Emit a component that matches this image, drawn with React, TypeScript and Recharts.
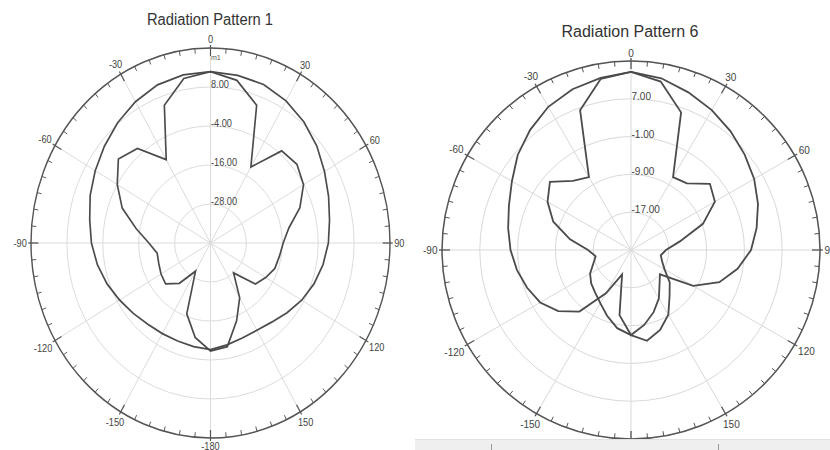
import React from "react";
import { RadarChart, Radar, PolarGrid, PolarAngleAxis, PolarRadiusAxis } from "recharts";

// sample angles (deg, clockwise from 0 at top)
const angles = [
  0, 10, 20, 30, 40, 50, 60, 70, 80, 90, 100, 110, 120, 130, 140, 150, 160, 170,
  180, 190, 200, 210, 220, 230, 240, 250, 260, 270, 280, 290, 300, 310, 320, 330, 340, 350,
];

// Radiation Pattern 1 (dB)
const pattern1Outer = [
  12.7, 12.4, 11.9, 10.5, 8.6, 6.4, 4.0, 2.0, 0.4, -0.6, -1.8, -3.2, -4.8, -6.6, -8.2, -9.0, -8.9, -8.2,
  -7.2, -7.6, -7.9, -7.8, -7.4, -6.3, -4.9, -3.2, -1.6, -0.2, 1.0, 2.8, 4.5, 6.3, 8.3, 10.2, 11.8, 12.5,
];
const pattern1Inner = [
  12.7, 10.8, 5.1, -13.0, -3.0, -2.3, -4.1, -8.2, -13.4, -15.7, -16.6, -17.1, -18.7, -20.4, -28.0, -20.5, -14.5, -7.6,
  -6.8, -10.5, -16.8, -30.0, -23.8, -20.4, -20.9, -21.6, -21.9, -19.4, -14.8, -8.6, -4.0, 0.2, -2.0, -10.4, 5.1, 11.4,
];

// Radiation Pattern 6 (dB)
const pattern6Outer = [
  12.7, 11.9, 10.5, 9.2, 7.8, 6.4, 5.1, 3.6, 2.0, 0.4, -2.1, -5.1, -9.8, -17.0, -15.6, -13.2, -11.0, -8.9,
  -7.0, -11.0, -19.5, -14.5, -8.0, -4.9, -2.8, -1.6, -0.5, 0.5, 1.4, 2.5, 4.1, 6.3, 8.2, 10.0, 11.2, 12.0,
];
const pattern6Inner = [
  12.7, 11.2, 6.0, -7.2, -6.6, -3.2, -4.5, -8.8, -14.5, -17.6, -18.6, -18.0, -16.8, -14.3, -12.3, -9.2, -7.0, -5.5,
  -7.0, -8.2, -10.2, -12.0, -13.2, -14.0, -15.0, -16.5, -17.4, -15.9, -11.9, -7.5, -4.6, -2.6, -5.9, -7.2, 6.5, 11.8,
];

const degreeTicks = [
  0, 5, 10, 15, 20, 25, 30, 35, 40, 45, 50, 55, 60, 65, 70, 75, 80, 85, 90, 95, 100, 105, 110, 115,
  120, 125, 130, 135, 140, 145, 150, 155, 160, 165, 170, 175, 180, 185, 190, 195, 200, 205, 210, 215,
  220, 225, 230, 235, 240, 245, 250, 255, 260, 265, 270, 275, 280, 285, 290, 295, 300, 305, 310, 315,
  320, 325, 330, 335, 340, 345, 350, 355,
];
const spokes = [0, 30, 60, 90, 120, 150, 180, 210, 240, 270, 300, 330];

const rings1 = [-28, -16, -4, 8, 20];
const rings6 = [-17, -9, -1, 7, 15];

const FONT = '"Liberation Sans", Arial, sans-serif';
const LINE = "#4b4b4b";

const angleLabel = (deg: number) => (deg >= 180 ? deg - 360 : deg);

function AngleTick({ payload, cx, cy, radius }: any) {
  const rad = (payload.coordinate * Math.PI) / 180;
  const ux = Math.cos(rad);
  const uy = -Math.sin(rad);
  const deg = payload.value;
  const major = deg % 30 === 0;
  const r0 = radius - (major ? 8 : 5);
  const r1 = radius + (major ? 3 : 0);
  const text = String(angleLabel(deg));
  const half = ((text.startsWith("-") ? 3.3 : 0) + text.replace("-", "").length * 5.6) / 2;
  const d = radius + 4.5 + Math.abs(ux) * half + Math.abs(uy) * 3.6;
  return (
    <g>
      <line
        x1={cx + ux * r0}
        y1={cy + uy * r0}
        x2={cx + ux * r1}
        y2={cy + uy * r1}
        stroke="#555"
        strokeWidth={major ? 1.3 : 1}
      />
      {major && (
        <text
          x={cx + ux * d}
          y={cy + uy * d + 3.6}
          textAnchor="middle"
          fontSize={10}
          fontFamily={FONT}
          fill="#444"
        >
          {text}
        </text>
      )}
    </g>
  );
}

function RadiusTick({ x, y, payload, top }: any) {
  if (payload.value === top) return <g />;
  return (
    <text x={x + 0.5} y={y + 1} textAnchor="start" fontSize={10} fontFamily={FONT} fill="#444">
      {payload.value.toFixed(2)}
    </text>
  );
}

function PatternChart({ outer, inner, rings, domain, width, cx, cy, radius }: any) {
  const data = angles.map((angle, i) => ({ angle, outer: outer[i], inner: inner[i] }));
  return (
    <RadarChart
      width={width}
      height={450}
      data={data}
      cx={cx}
      cy={cy}
      innerRadius={0}
      outerRadius={radius}
      margin={{ top: 0, right: 0, bottom: 0, left: 0 }}
    >
      <PolarGrid gridType="circle" polarAngles={spokes.map((d) => 90 - d)} stroke="#d9d9d9" />
      <PolarAngleAxis
        dataKey="angle"
        type="number"
        domain={[0, 360]}
        ticks={degreeTicks}
        axisLineType="circle"
        axisLine={{ stroke: "#555", strokeWidth: 1.5 }}
        tickLine={false}
        tick={(p: any) => <AngleTick {...p} cx={cx} cy={cy} radius={radius} />}
      />
      <PolarRadiusAxis
        angle={90}
        type="number"
        domain={domain}
        ticks={rings}
        axisLine={false}
        tickLine={false}
        tick={(p: any) => <RadiusTick {...p} top={domain[1]} />}
      />
      <Radar dataKey="outer" stroke={LINE} strokeWidth={1.8} fill="none" fillOpacity={0} dot={false} isAnimationActive={false} />
      <Radar dataKey="inner" stroke={LINE} strokeWidth={1.8} fill="none" fillOpacity={0} dot={false} isAnimationActive={false} />
    </RadarChart>
  );
}

export default function App() {
  return (
    <div
      style={{
        position: "absolute",
        left: 0,
        top: 0,
        width: 830,
        height: 450,
        overflow: "hidden",
        background: "#fff",
        fontFamily: FONT,
      }}
    >
      {/* left plot is squeezed horizontally in the source picture */}
      <div
        style={{
          position: "absolute",
          left: -20,
          top: 0,
          transform: "scaleX(0.9205)",
          transformOrigin: "230.5px 243px",
        }}
      >
        <PatternChart
          outer={pattern1Outer}
          inner={pattern1Inner}
          rings={rings1}
          domain={[-40, 20]}
          width={460}
          cx={230.5}
          cy={243}
          radius={195}
        />
      </div>
      <div
        style={{
          position: "absolute",
          left: 0,
          top: 12,
          width: 420,
          textAlign: "center",
          fontSize: 16,
          lineHeight: "16px",
          color: "#333",
          transform: "scaleX(0.92)",
          transformOrigin: "210px 8px",
        }}
      >
        Radiation Pattern 1
      </div>
      <div
        style={{
          position: "absolute",
          left: 211,
          top: 54,
          fontSize: 7,
          lineHeight: "7px",
          color: "#555",
        }}
      >
        m1
      </div>

      <div style={{ position: "absolute", left: 420, top: 0 }}>
        <PatternChart
          outer={pattern6Outer}
          inner={pattern6Inner}
          rings={rings6}
          domain={[-25, 15]}
          width={410}
          cx={211}
          cy={250}
          radius={189}
        />
      </div>
      <div
        style={{
          position: "absolute",
          left: 420,
          top: 24,
          width: 420,
          textAlign: "center",
          fontSize: 16,
          lineHeight: "16px",
          color: "#333",
        }}
      >
        Radiation Pattern 6
      </div>

      <div
        style={{
          position: "absolute",
          left: 415,
          top: 439,
          width: 415,
          height: 11,
          background: "#efefef",
          borderTop: "1px solid #e2e2e2",
        }}
      />
      <div style={{ position: "absolute", left: 491, top: 444, width: 1, height: 6, background: "#999" }} />
      <div style={{ position: "absolute", left: 718, top: 444, width: 1, height: 6, background: "#999" }} />
    </div>
  );
}
